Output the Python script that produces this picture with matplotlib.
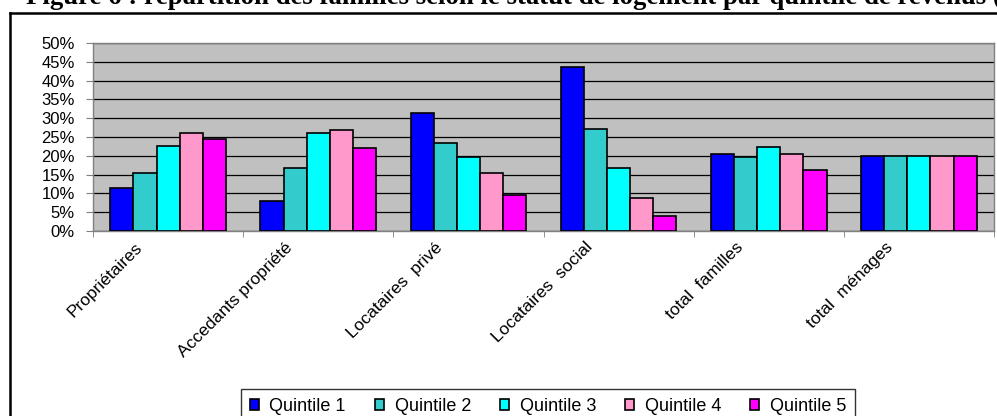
import numpy as np
import matplotlib.pyplot as plt
from matplotlib.lines import Line2D
from matplotlib.transforms import ScaledTranslation

# Données : part des familles (%) par statut de logement et quintile de revenus
categories = ['Propriétaires', 'Accedants propriété', 'Locataires  privé',
              'Locataires  social', 'total  familles', 'total  ménages']
series = ['Quintile 1', 'Quintile 2', 'Quintile 3', 'Quintile 4', 'Quintile 5']
quintile_1 = [11.5, 7.9, 31.3, 43.6, 20.6, 20.0]
quintile_2 = [15.4, 16.7, 23.4, 27.0, 19.8, 20.0]
quintile_3 = [22.5, 26.1, 19.8, 16.7, 22.3, 20.0]
quintile_4 = [26.1, 26.9, 15.5, 8.7, 20.6, 20.0]
quintile_5 = [24.6, 22.2, 9.6, 4.0, 16.1, 20.0]
values = [quintile_1, quintile_2, quintile_3, quintile_4, quintile_5]
colors = ['#0000FF', '#33CCCC', '#00FFFF', '#FF99CC', '#FF00FF']

plt.rcParams['font.family'] = ['Liberation Sans', 'DejaVu Sans']

W, H = 997, 416
fig = plt.figure(figsize=(W / 100, H / 100), dpi=100)

# cadre extérieur (gauche et haut)
fig.add_artist(Line2D([10 / W, 10 / W], [0, 1 - 13 / H], transform=fig.transFigure,
                      color='black', lw=1.8))
fig.add_artist(Line2D([10 / W, 1], [1 - 13 / H, 1 - 13 / H], transform=fig.transFigure,
                      color='black', lw=1.8))

# titre (coupé en haut)
fig.text(0.55, 1 - 4 / H,
         'Figure 6 : répartition des familles selon le statut de logement par quintile de revenus (en %)',
         ha='center', va='baseline', fontsize=19.3, fontweight='bold',
         family=['Liberation Serif', 'DejaVu Serif'])

ax = fig.add_axes([93 / W, 185 / H, 901 / W, 188 / H])
ax.set_facecolor('#C0C0C0')

n = len(series)
width = 1 / (n + 1.5)
x = np.arange(len(categories))
for i, (vals, c, name) in enumerate(zip(values, colors, series)):
    ax.bar(x + (i - (n - 1) / 2) * width, vals, width, color=c,
           edgecolor='black', linewidth=1.2, label=name, zorder=3)

ax.set_xlim(-0.5, len(categories) - 0.5)
ax.set_ylim(0, 50)
ax.set_yticks(np.arange(0, 51, 5))
ax.set_yticklabels([f'{v}%' for v in range(0, 51, 5)], fontsize=12)
ax.yaxis.grid(True, color='black', lw=0.9, zorder=1)
ax.set_axisbelow(True)

for s in ax.spines.values():
    s.set_color('#808080')
    s.set_linewidth(1)
ax.tick_params(axis='y', direction='out', length=5, color='#808080', pad=8)

# graduations aux limites des catégories, étiquettes au centre
ax.set_xticks(np.arange(-0.5, len(categories), 1), minor=True)
ax.set_xticks(x)
ax.tick_params(axis='x', which='minor', direction='out', length=4, color='#808080')
ax.tick_params(axis='x', which='major', length=0, pad=10)
ax.set_xticklabels(categories, rotation=45, ha='right', va='center',
                   rotation_mode='anchor', fontsize=12.5)
shift = ScaledTranslation(-0.28, 0, fig.dpi_scale_trans)
for lbl in ax.get_xticklabels():
    lbl.set_transform(lbl.get_transform() + shift)

leg = fig.legend(loc='upper center', bbox_to_anchor=(548 / W, 1 - 389 / H), ncol=5,
                 fontsize=13, frameon=True, fancybox=False, handlelength=0.5,
                 handleheight=0.5, handletextpad=0.6, columnspacing=1.6,
                 borderpad=0.5, borderaxespad=0)
leg.get_frame().set_edgecolor('black')
leg.get_frame().set_linewidth(1)

fig.savefig('out.png', dpi=100)
